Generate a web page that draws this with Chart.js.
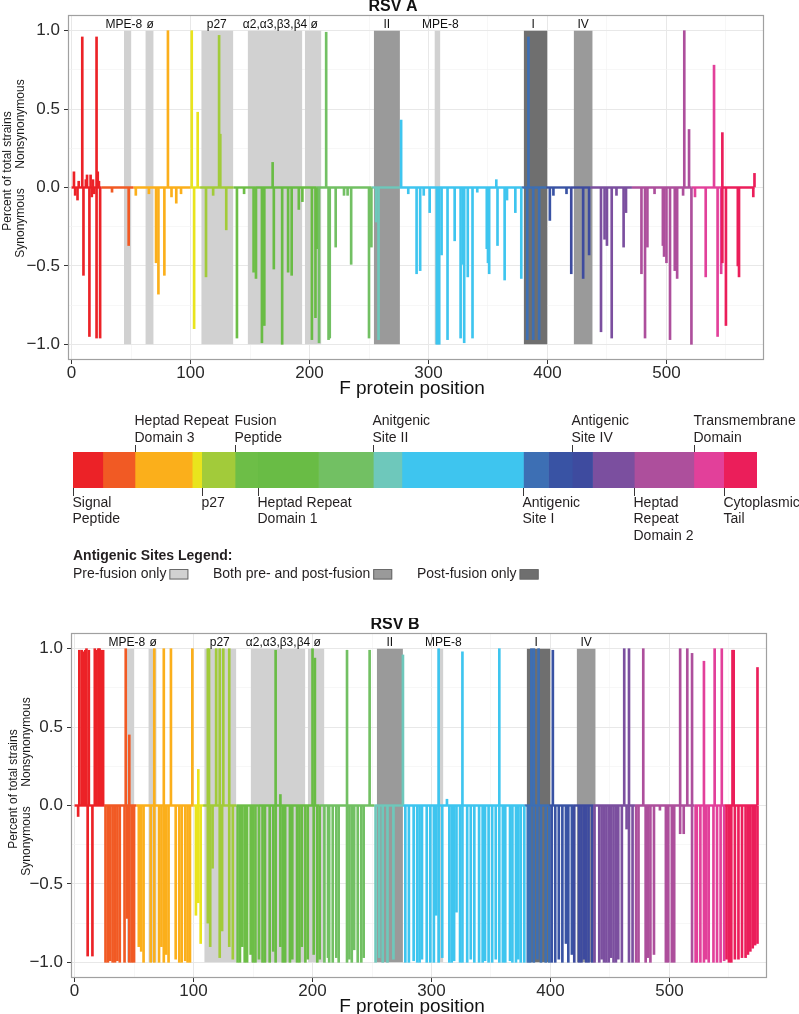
<!DOCTYPE html>
<html><head><meta charset="utf-8">
<script src="https://cdn.jsdelivr.net/npm/chart.js@4.4.1/dist/chart.umd.min.js"></script>
<style>
html,body{margin:0;padding:0;background:#fff;overflow:hidden;width:799px;height:1014px;}
.wrap{position:absolute;left:0;width:799px;}
canvas{display:block;}
</style></head><body>
<div class="wrap" style="top:0;height:400px"><canvas id="cA" width="799" height="400"></canvas></div>
<div class="wrap" style="top:400px;height:218px"><canvas id="cM" width="799" height="218"></canvas></div>
<div class="wrap" style="top:618px;height:400px"><canvas id="cB" width="799" height="400"></canvas></div>
<script>
const FONT = '"Liberation Sans", Arial, Helvetica, sans-serif';

// ---- F protein domains ----
const domainStart = [0,25,52,100,108,136,155,206,252,276,378,399,419,436,471,521,546];
const domainEnd   = [25,52,100,108,136,155,206,252,276,378,399,419,436,471,521,546,574];
const domainColor = ['#EC2227','#F15A24','#FBAF1B','#E9E41D','#A2CB3A','#6DBE47','#69BC45','#72C063','#6EC8BB','#3EC5EF','#3D6FB4','#3953A4','#3E4B9F','#7B4F9F','#AD4F9C','#E2409A','#EB1E5A'];

const topLabelPos  = [52,136,252,419,521];
const topLabelText = [['Heptad Repeat','Domain 3'],['Fusion','Peptide'],['Anitgenic','Site II'],['Antigenic','Site IV'],['Transmembrane','Domain']];
const botLabelPos  = [0,108,155,378,471,546];
const botLabelText = [['Signal','Peptide'],['p27'],['Heptad Repeat','Domain 1'],['Antigenic','Site I'],['Heptad','Repeat','Domain 2'],['Cytoplasmic','Tail']];

// ---- antigenic sites ----
const siteNames  = ['MPE-8','ø','p27','α2,α3,β3,β4','ø','II','MPE-8','I','IV'];
const siteStart  = [44,62,109,148,196,254,305,380,422];
const siteEnd    = [50,69,136,194,210,276,310,400,438];
const siteType   = [0,0,0,0,0,1,0,2,1];
const siteLabelX = [44,66,122,171,204,265,310,388,430];
const siteColor  = ['#D1D1D1','#9A9A9A','#6F6F6F'];
const legendTitle = 'Antigenic Sites Legend:';
const legendLabels = ['Pre-fusion only','Both pre- and post-fusion','Post-fusion only'];

// ---- axes ----
const xTicks = [0,50,100,150,200,250,300,350,400,450,500,550];
const xMajor = [0,100,200,300,400,500];
const yTicks = [-1,-0.75,-0.5,-0.25,0,0.25,0.5,0.75,1];
const yMajor = [-1,-0.5,0,0.5,1];

// ---- RSV A ----
const aNonPos = [2,6,9,12,13,16,18,21,22,23, 81,101,106,124,125, 169,214,277,357,384, 515,519,540,547,574];
const aNonVal = [0.10,0.04,0.96,0.05,0.08,0.08,0.05,0.96,0.10,0.04, 1.00,1.00,0.48,0.97,0.34, 0.16,0.99,0.43,0.05,0.96, 1.00,0.37,0.78,0.35,0.09];
const aSynPos = [3,5,10,15,17,19,21,24,48,54,
  65,71,73,78,88,103,113,119,130,139,
  153,155,160,162,170,177,182,185,191,194,
  202,205,206,208,216,217,222,229,235,250,
  252,256,258,290,293,301,307,309,311,316,
  322,327,329,330,333,337,349,350,351,358,
  364,366,373,378,383,388,393,402,405,420,
  430,435,445,448,450,454,464,466,479,482,
  484,497,498,500,503,507,509,521,524,533,
  543,546,547,550,560,561,573,
  34,84,92,145,232,283,296,341,416,458,490,514];
const aSynVal = [-0.05,-0.08,-0.56,-0.95,-0.06,-0.04,-0.96,-0.96,-0.37,-0.05,
  -0.04,-0.48,-0.68,-0.56,-0.10,-0.90,-0.57,-0.05,-0.27,-0.96,
  -0.54,-0.58,-0.99,-0.88,-0.52,-1.00,-0.54,-0.56,-0.14,-0.09,
  -0.97,-0.83,-0.39,-0.99,-0.97,-0.96,-0.38,-0.05,-0.49,-0.96,
  -0.38,-0.22,-0.97,-0.55,-0.53,-0.16,-1.00,-1.00,-0.43,-0.97,
  -0.34,-0.96,-0.49,-0.99,-0.57,-0.96,-0.39,-0.48,-0.55,-0.37,
  -0.59,-0.08,-0.16,-0.58,-0.97,-0.97,-0.97,-0.21,-0.05,-0.55,
  -0.58,-0.43,-0.92,-0.33,-0.37,-0.96,-0.38,-0.16,-0.55,-0.96,
  -0.38,-0.37,-0.44,-0.48,-0.97,-0.53,-0.58,-1.00,-0.06,-0.57,
  -0.95,-0.55,-0.48,-0.88,-0.50,-0.57,-0.06,
  -0.03,-0.06,-0.04,-0.04,-0.05,-0.04,-0.05,-0.03,-0.04,-0.05,-0.04,-0.05];

// ---- RSV B ----
const bNonPos = [4,6,7,9,10,12,17,18,20,21,22,24,
  43,46,67,75,81,99,104,112,113,119,122,125,130,
  169,173,200,202,229,248,276,306,313,326,357,384,386,390,402,462,466,478,509,515,519,529,538,544,553,554,574];
const bNonVal = [0.99,0.99,0.98,0.99,1.00,0.99,1.00,0.99,1.00,1.00,0.99,0.99,
  1.00,0.45,1.00,1.00,1.00,1.00,0.23,1.00,1.00,1.00,1.00,1.00,1.00,
  0.99,0.07,1.00,0.94,0.99,0.99,0.96,1.00,0.04,0.98,1.00,1.00,1.00,1.00,0.99,1.00,1.00,1.00,1.00,1.00,0.97,0.92,1.00,1.00,0.99,0.99,0.88];
const bSynPos = [3,11,15,26,28,30,32,34,36,38,
  42,44,46,48,50,54,56,58,64,67,
  71,73,75,77,79,85,88,90,93,95,
  97,102,104,106,112,114,116,122,124,130,
  133,137,139,141,143,145,148,150,152,155,
  158,160,164,167,169,173,175,177,181,183,
  187,189,191,194,196,201,204,206,210,213,
  214,217,220,222,229,231,233,235,238,241,
  243,253,256,259,263,268,278,281,285,288,
  290,292,296,299,302,304,306,309,315,317,
  319,321,324,326,330,333,336,340,343,345,
  348,351,354,357,360,362,366,368,371,373,
  375,378,381,383,386,389,392,396,399,401,
  404,407,410,413,415,418,420,424,426,428,
  430,432,435,437,441,443,445,447,449,451,
  453,455,457,460,464,466,469,472,474,480,
  482,484,487,492,497,499,502,504,509,512,
  519,522,523,526,529,531,533,537,540,543,
  546,548,550,552,555,558,561,564,566,568,
  570,572,574];
const bSynVal = [-0.07,-0.96,-0.96,-1.00,-1.00,-0.99,-1.00,-1.00,-0.99,-1.00,
  -1.00,-0.72,-1.00,-1.00,-1.00,-0.90,-0.93,-1.00,-1.00,-1.00,
  -1.00,-0.90,-1.00,-0.95,-1.00,-0.98,-1.00,-1.00,-0.99,-1.00,
  -1.00,-0.70,-0.62,-0.88,-0.75,-0.90,-0.40,-0.97,-0.80,-0.90,
  -0.98,-1.00,-1.00,-0.90,-1.00,-1.00,-0.95,-1.00,-1.00,-0.98,
  -1.00,-1.00,-1.00,-0.93,-1.00,-0.90,-1.00,-1.00,-1.00,-0.98,
  -1.00,-1.00,-0.90,-1.00,-0.98,-0.95,-1.00,-0.98,-1.00,-0.97,
  -1.00,-1.00,-0.97,-1.00,-1.00,-0.98,-1.00,-0.92,-1.00,-1.00,
  -0.97,-1.00,-0.97,-1.00,-1.00,-0.98,-1.00,-1.00,-0.99,-1.00,
  -1.00,-0.98,-1.00,-1.00,-1.00,-0.70,-1.00,-0.97,-1.00,-1.00,
  -0.99,-0.68,-1.00,-1.00,-1.00,-0.98,-1.00,-1.00,-1.00,-0.99,
  -1.00,-1.00,-0.98,-1.00,-1.00,-1.00,-0.99,-1.00,-1.00,-0.98,
  -1.00,-1.00,-1.00,-1.00,-1.00,-0.98,-1.00,-1.00,-1.00,-1.00,
  -1.00,-0.98,-1.00,-0.88,-1.00,-0.95,-1.00,-1.00,-1.00,-0.98,
  -1.00,-1.00,-1.00,-1.00,-1.00,-0.98,-1.00,-1.00,-1.00,-0.97,
  -1.00,-1.00,-0.98,-1.00,-0.15,-1.00,-1.00,-1.00,-1.00,-1.00,
  -0.97,-1.00,-0.95,-0.03,-1.00,-1.00,-1.00,-1.00,-0.18,-0.18,
  -1.00,-1.00,-1.00,-1.00,-1.00,-0.98,-1.00,-1.00,-1.00,-1.00,
  -0.99,-0.98,-1.00,-1.00,-0.98,-0.98,-0.97,-0.97,-0.95,-0.93,
  -0.91,-0.89,-0.88];

Chart.defaults.font.family = FONT;

function colorAt(p){
  for (let i=0;i<domainEnd.length;i++){ if (p<=domainEnd[i]) return domainColor[i]; }
  return domainColor[domainColor.length-1];
}
const near = (a,b)=>Math.abs(a-b)<1e-6;
const isMajX = v => xMajor.some(m=>near(m,v));
const isMajY = v => yMajor.some(m=>near(m,v));
const fmtY = v => (v<0?'\u2212':'') + Math.abs(v).toFixed(1);

const panelPlugin = {
  id:'panel',
  afterDraw(chart, args, o){
    const {ctx, chartArea:a} = chart; const x = chart.scales.x, y = chart.scales.y;
    ctx.save();
    ctx.strokeStyle='#A0A0A0'; ctx.lineWidth=1.2;
    ctx.strokeRect(a.left+0.5, a.top+0.5, a.right-a.left-1, a.bottom-a.top-1);
    ctx.fillStyle='#111'; ctx.textAlign='center'; ctx.textBaseline='middle';
    ctx.font='12px '+FONT;
    const ly = y.getPixelForValue(1)-6;
    siteNames.forEach((n,i)=>ctx.fillText(n, x.getPixelForValue(siteLabelX[i]), ly));
    ctx.font='bold 16px '+FONT; ctx.fillText(o.title, o.titleX, 7);
    ctx.font='19px '+FONT; ctx.fillText('F protein position', 412, 389);
    ctx.font='12px '+FONT; ctx.fillStyle='#1a1a1a';
    const rot=(t,cx,cy)=>{ctx.save();ctx.translate(cx,cy);ctx.rotate(-Math.PI/2);ctx.fillText(t,0,0);ctx.restore();};
    rot('Percent of total strains', o.yx1, 171);
    rot('Nonsynonymous', o.yx2, 124);
    rot('Synonymous', o.yx2, 223);
    ctx.restore();
  }
};

function buildPanel(id, nPos, nVal, sPos, sVal, o){
  const barColor = c => colorAt(c.raw ? c.raw.x : 0);
  const ds = [];
  ds.push({type:'bar', data:nPos.map((p,i)=>({x:p,y:nVal[i]})), backgroundColor:barColor, borderWidth:0, barThickness:2, stack:'v', order:1});
  ds.push({type:'bar', data:sPos.map((p,i)=>({x:p,y:sVal[i]})), backgroundColor:barColor, borderWidth:0, barThickness:2, stack:'v', order:1});
  domainStart.forEach((s,i)=>ds.push({type:'line', yAxisID:'y2', data:[{x:s,y:0},{x:domainEnd[i],y:0}], borderColor:domainColor[i], borderWidth:2.4, pointRadius:0, fill:false, order:2}));
  siteStart.forEach((s,i)=>ds.push({type:'line', yAxisID:'y2', data:[{x:s,y:1},{x:siteEnd[i],y:1}], borderWidth:0, borderColor:'rgba(0,0,0,0)', pointRadius:0, backgroundColor:siteColor[siteType[i]], fill:{value:-1}, order:3}));
  return new Chart(document.getElementById(id), {
    type:'bar',
    data:{datasets:ds},
    options:{
      responsive:false, animation:false, events:[],
      layout:{padding:{left:0,right:o.padRight,top:15,bottom:0}},
      plugins:{legend:{display:false}, tooltip:{enabled:false}, panel:{title:o.title,titleX:o.titleX,yx1:o.yx1,yx2:o.yx2}},
      scales:{
        x:{type:'linear', min:-3, max:582, offset:false, stacked:true,
          afterBuildTicks:s=>{ s.ticks = xTicks.map(v=>({value:v})); },
          afterFit:s=>{ s.height = 40; },
          ticks:{autoSkip:false, maxRotation:0, minRotation:0, padding:1, color:'#2a2a2a', font:{size:17, lineHeight:1}, callback:v=> isMajX(v)? String(v):''},
          grid:{offset:false, drawTicks:true, tickLength:4, tickWidth:1,
            color:c=> isMajX(c.tick.value)?'#E8E8E8':'#F4F4F4',
            lineWidth:c=> isMajX(c.tick.value)?1:0.7,
            tickColor:c=> isMajX(c.tick.value)?'#333':'rgba(0,0,0,0)'},
          border:{display:false}
        },
        y:{type:'linear', min:-1.1, max:1.1, stacked:true,
          afterBuildTicks:s=>{ s.ticks = yTicks.map(v=>({value:v})); },
          afterFit:s=>{ s.width = o.left; },
          ticks:{autoSkip:false, padding:4, color:'#2a2a2a', font:{size:17, lineHeight:1}, callback:v=> isMajY(v)? fmtY(v):''},
          grid:{drawTicks:true, tickLength:4, tickWidth:1,
            color:c=> isMajY(c.tick.value)?'#E8E8E8':'#F4F4F4',
            lineWidth:c=> isMajY(c.tick.value)?1:0.7,
            tickColor:c=> isMajY(c.tick.value)?'#333':'rgba(0,0,0,0)'},
          border:{display:false}
        },
        y2:{type:'linear', min:-1.1, max:1.1, display:false}
      }
    },
    plugins:[panelPlugin]
  });
}

buildPanel('cA', aNonPos, aNonVal, aSynPos, aSynVal, {title:'RSV A', titleX:393, left:68, padRight:35, yx1:8, yx2:21});
buildPanel('cB', bNonPos, bNonVal, bSynPos, bSynVal, {title:'RSV B', titleX:395, left:71, padRight:32, yx1:14, yx2:27});

// ---- domain map ----
const domainPlugin = {
  id:'domainLabels',
  afterDraw(chart){
    const {ctx, chartArea:a} = chart; const x = chart.scales.x;
    ctx.save();
    ctx.fillStyle='#231F20'; ctx.strokeStyle='#231F20'; ctx.lineWidth=0.9;
    ctx.font='14px '+FONT; ctx.textAlign='left'; ctx.textBaseline='middle';
    topLabelPos.forEach((p,i)=>{
      const px = Math.round(x.getPixelForValue(p))+0.5;
      ctx.beginPath(); ctx.moveTo(px, a.top-7); ctx.lineTo(px, a.top); ctx.stroke();
      const lines = topLabelText[i];
      lines.forEach((t,j)=>ctx.fillText(t, px-1, a.top-14-(lines.length-1-j)*16.5));
    });
    botLabelPos.forEach((p,i)=>{
      const px = Math.round(x.getPixelForValue(p))+0.5;
      ctx.beginPath(); ctx.moveTo(px, a.bottom); ctx.lineTo(px, a.bottom+8); ctx.stroke();
      botLabelText[i].forEach((t,j)=>ctx.fillText(t, px-1, a.bottom+15+j*16.5));
    });
    // legend
    ctx.font='bold 14px '+FONT; ctx.fillText(legendTitle, 73, 156);
    ctx.font='14px '+FONT;
    const lx = [73, 213, 417];
    legendLabels.forEach((t,i)=>{
      ctx.fillStyle='#231F20'; ctx.fillText(t, lx[i], 174);
      const bx = lx[i] + ctx.measureText(t).width + 3;
      ctx.fillStyle = siteColor[i]; ctx.fillRect(bx, 169.5, 19, 10);
      ctx.strokeStyle='#6a6a6a'; ctx.lineWidth=1; ctx.strokeRect(bx+0.5, 169.5, 18, 9.5);
    });
    ctx.restore();
  }
};

new Chart(document.getElementById('cM'), {
  type:'bar',
  data:{labels:['F'], datasets: domainStart.map((s,i)=>({data:[domainEnd[i]-s], backgroundColor:domainColor[i], borderWidth:0, barPercentage:1, categoryPercentage:1}))},
  options:{indexAxis:'y', responsive:false, animation:false, events:[],
    layout:{padding:{left:73,right:42,top:52,bottom:130}},
    plugins:{legend:{display:false}, tooltip:{enabled:false}},
    scales:{x:{type:'linear',min:0,max:574,stacked:true,display:false}, y:{stacked:true,display:false}}
  },
  plugins:[domainPlugin]
});
</script></body></html>
